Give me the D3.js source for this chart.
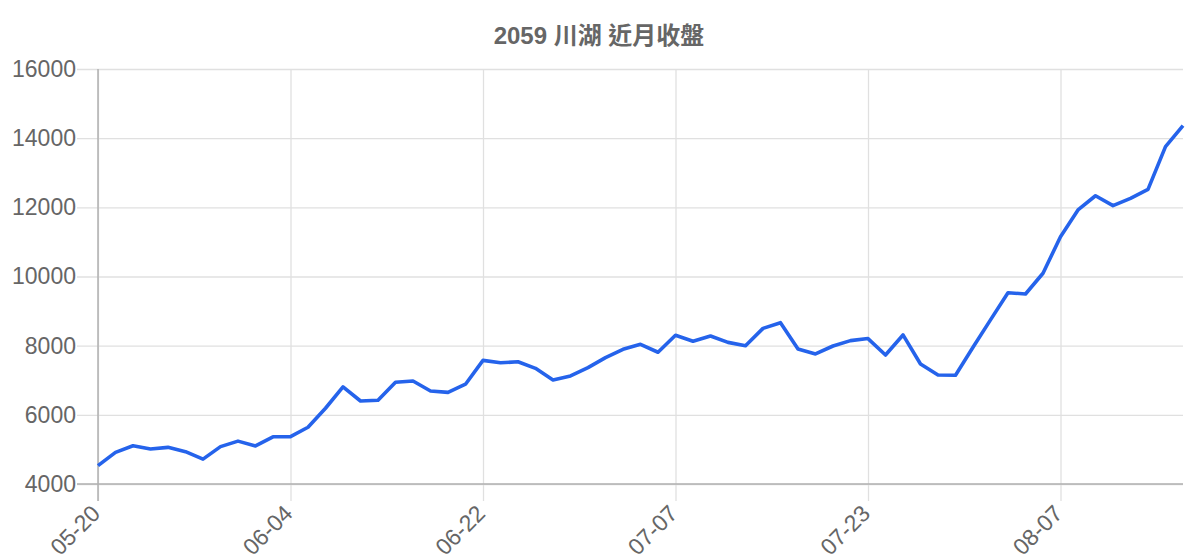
<!DOCTYPE html>
<html>
<meta charset="utf-8">
<style>
body {
	margin: 0;
	background: #fff;
}

svg {
	display: block;
	font-family: "Liberation Sans", Arial, sans-serif;
}

.title {
	fill: #666;
	font: bold 24px "Liberation Sans", "Noto Sans CJK TC", sans-serif;
}

.axis text {
	fill: #666;
	font-size: 23px;
	font-family: "Liberation Sans", Arial, sans-serif;
}

.grid line {
	stroke: #e0e0e0;
	stroke-width: 1.3;
}

.axis-line {
	stroke: #b0b0b0;
	stroke-width: 1.5;
}

.price {
	fill: none;
	stroke: #2563eb;
	stroke-width: 3.6;
	stroke-linejoin: round;
}
</style>

<body>
<svg id="chart" width="1200" height="560"></svg>

<script src="https://cdn.jsdelivr.net/npm/d3@7"></script>

<script>
var dates = [
	"05-20", "05-21", "05-22", "05-23", "05-26", "05-27", "05-28", "05-29", "05-30", "06-02", "06-03", "06-04",
	"06-05", "06-06", "06-09", "06-10", "06-11", "06-12", "06-13", "06-16", "06-18", "06-20", "06-22",
	"06-23", "06-24", "06-25", "06-26", "06-27", "06-30", "07-01", "07-02", "07-03", "07-04", "07-07",
	"07-08", "07-09", "07-10", "07-11", "07-14", "07-15", "07-16", "07-17", "07-18", "07-21", "07-23",
	"07-24", "07-25", "07-28", "07-29", "07-30", "07-31", "08-01", "08-04", "08-05", "08-06", "08-07",
	"08-08", "08-11", "08-12", "08-13", "08-14", "08-15", "08-18"
];

var closes = [
	4530, 4915, 5105, 5010, 5060, 4935, 4720, 5080, 5240, 5100, 5365, 5370,
	5640, 6190, 6810, 6400, 6420, 6940, 6980, 6690, 6650, 6885, 7575,
	7505, 7535, 7345, 7010, 7125, 7365, 7655, 7895, 8040, 7810, 8300,
	8130, 8280, 8095, 8000, 8500, 8665, 7905, 7760, 7990, 8145, 8205,
	7730, 8310, 7470, 7150, 7145, 7955, 8745, 9530, 9495, 10095, 11150,
	11925, 12335, 12050, 12260, 12520, 13755, 14360
];

var xTicks = ["05-20", "06-04", "06-22", "07-07", "07-23", "08-07"];
var yTicks = [4000, 6000, 8000, 10000, 12000, 14000, 16000];

var margin = {top: 69, right: 17, bottom: 76, left: 98};
var width = 1200 - margin.left - margin.right;
var height = 560 - margin.top - margin.bottom;

var svg = d3.select("#chart");

svg.append("text")
	.attr("class", "title")
	.attr("x", 599)
	.attr("y", 44)
	.attr("text-anchor", "middle")
	.text("2059 川湖 近月收盤");

var g = svg.append("g")
	.attr("transform", "translate(" + margin.left + "," + margin.top + ")");

var x = d3.scalePoint()
	.domain(dates)
	.range([0, width]);

var y = d3.scaleLinear()
	.domain([4000, 16000])
	.range([height, 0]);

// horizontal grid + y labels, grid pokes 21px left of the axis
var yAxis = g.append("g")
	.attr("class", "axis grid")
	.attr("transform", "translate(-21,0)")
	.call(d3.axisLeft(y)
		.tickValues(yTicks)
		.tickSize(-(width + 21))
		.tickPadding(1)
		.tickFormat(d3.format("d")));
yAxis.select(".domain").remove();

// vertical grid + rotated date labels
var xAxis = g.append("g")
	.attr("class", "axis grid")
	.attr("transform", "translate(0," + (height + 17) + ")")
	.call(d3.axisBottom(x)
		.tickValues(xTicks)
		.tickSize(-(height + 17))
		.tickPadding(0));
xAxis.select(".domain").remove();
xAxis.selectAll("text")
	.attr("text-anchor", "end")
	.attr("dy", "0")
	.attr("transform", "translate(3,14) rotate(-45)");

g.append("line")
	.attr("class", "axis-line")
	.attr("x1", 0).attr("x2", 0)
	.attr("y1", 0).attr("y2", height + 17);

g.append("line")
	.attr("class", "axis-line")
	.attr("x1", -21).attr("x2", width)
	.attr("y1", height).attr("y2", height);

var line = d3.line()
	.x(function(d, i) { return x(dates[i]); })
	.y(function(d) { return y(d); });

g.append("path")
	.datum(closes)
	.attr("class", "price")
	.attr("d", line);
</script>
</body>
</html>
